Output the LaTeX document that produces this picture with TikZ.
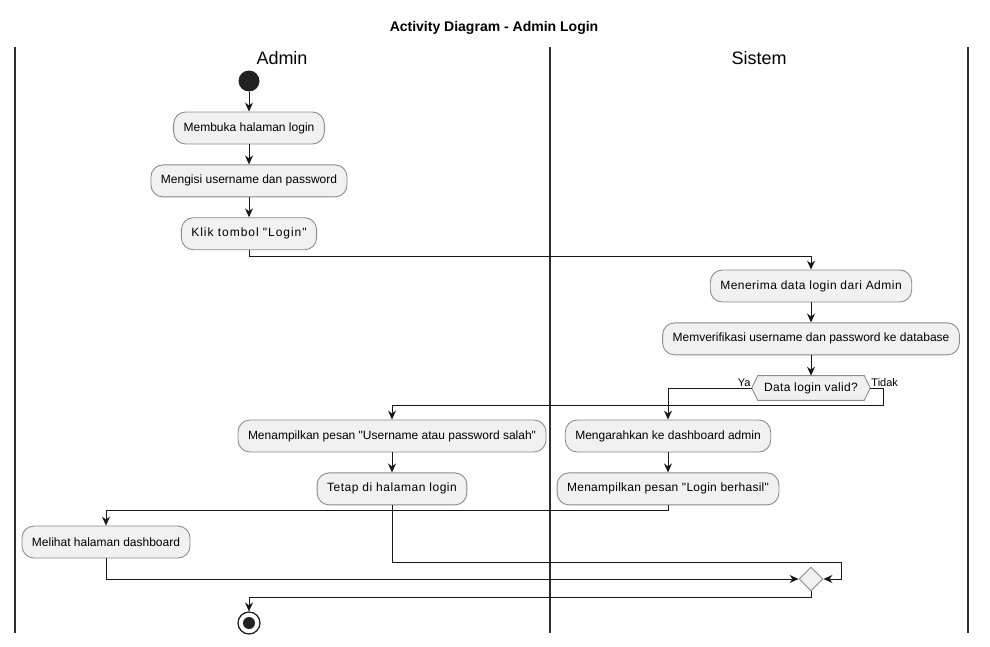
\documentclass[tikz,border=0pt]{standalone}
\usepackage{fontspec}
\setmainfont{Liberation Sans}[Ligatures=TeXOff]
\usetikzlibrary{arrows.meta,shapes.geometric,positioning,calc}

\definecolor{boxfill}{HTML}{F1F1F1}
\definecolor{boxline}{HTML}{8A8A8A}
\definecolor{flowline}{HTML}{181818}
\definecolor{laneline}{HTML}{2E2E2E}
\definecolor{dotfill}{HTML}{222222}

\pgfdeclarelayer{background}
\pgfsetlayers{background,main}

\tikzset{
	action/.style={draw=boxline, fill=boxfill, line width=0.5pt, rounded corners=0.24cm,
		minimum height=0.64cm, inner xsep=0.2cm, inner ysep=0pt,
		font=\fontsize{6.83pt}{8pt}\selectfont},
	spaced/.style={font=\fontsize{6.83pt}{8pt}\selectfont\addfontfeature{LetterSpace=#1}},
	flow/.style={draw=flowline, line width=0.57pt,
		-{Stealth[length=0.18cm,width=0.16cm,inset=0.06cm]}},
	guard/.style={inner sep=0.5pt, font=\fontsize{6.26pt}{7pt}\selectfont},
	lane/.style={draw=laneline, line width=0.85pt},
}

\begin{document}
\begin{tikzpicture}[x=0.02cm, y=-0.02cm]
	\useasboundingbox (0,0) rectangle (990,646);
	% swimlanes
	\foreach \x in {15,550,968}
		\draw[lane] (\x,47) -- (\x,633);
	\node[font=\fontsize{7.97pt}{9pt}\selectfont\bfseries] (title) at (494,28) {Activity Diagram - Admin Login};
	\node[font=\fontsize{10.24pt}{12pt}\selectfont] (hadmin) at (282,58) {Admin};
	\node[font=\fontsize{10.24pt}{12pt}\selectfont] (hsistem) at (759,58) {Sistem};
	%
	\node[circle, fill=dotfill, minimum size=0.42cm, inner sep=0pt] (start) at (249,81) {};
	\node[action] (a1) at (249,128) {Membuka halaman login};
	\node[action, below=0.4cm of a1] (a2) {Mengisi username dan password};
	\node[action, spaced=8, below=0.4cm of a2] (a3) {Klik tombol "Login"};
	\node[action, spaced=4] (s1) at (811,286) {Menerima data login dari Admin};
	\node[action, below=0.4cm of s1] (s2) {Memverifikasi username dan password ke database};
	\node[minimum height=0.48cm, inner xsep=0.12cm, inner ysep=0pt, spaced=3] (dec) at (811,388) {Data login valid?};
	\coordinate (decL) at ($(dec.west)+(-6,0)$);
	\coordinate (decR) at ($(dec.east)+(6,0)$);
	\begin{pgfonlayer}{background}
		\draw[boxline, fill=boxfill, line width=0.5pt] (decL) -- (dec.north west) -- (dec.north east)
			-- (decR) -- (dec.south east) -- (dec.south west) -- cycle;
	\end{pgfonlayer}
	\node[guard, anchor=south east] (ya) at (decL) {Ya};
	\node[guard, anchor=south west] (tidak) at (decR) {Tidak};
	\node[action] (s3) at (668,436) {Mengarahkan ke dashboard admin};
	\node[action, spaced=2.2, below=0.4cm of s3] (s4) {Menampilkan pesan "Login berhasil"};
	\node[action] (e1) at (392,436) {Menampilkan pesan "Username atau password salah"};
	\node[action, spaced=4.5, below=0.4cm of e1] (e2) {Tetap di halaman login};
	\node[action] (a4) at (106,542) {Melihat halaman dashboard};
	\node[diamond, draw=boxline, fill=boxfill, line width=0.5pt, minimum size=0.48cm,
		inner sep=0pt] (merge) at (811,579) {};
	\node[circle, draw=flowline, line width=0.7pt, fill=white, minimum size=0.44cm,
		inner sep=0pt] (stop) at (249,623) {};
	\fill[dotfill] (stop) circle (0.12cm);
	%
	\draw[flow] (start) -- (a1);
	\draw[flow] (a1) -- (a2);
	\draw[flow] (a2) -- (a3);
	\draw[flow] (a3.south) -- ++(0,6) -| (s1.north);
	\draw[flow] (s1) -- (s2);
	\draw[flow] (s2) -- (dec.north);
	\draw[flow] (decL) -| (s3.north);
	\draw[flow] (decR) -- ++(13,0) -- ++(0,17) -| (e1.north);
	\draw[flow] (s3) -- (s4);
	\draw[flow] (e1) -- (e2);
	\draw[flow] (s4.south) -- ++(0,5) -| (a4.north);
	\draw[flow] (e2.south) -- ++(0,57) -| ($(merge.east)+(18,0)$) -- (merge.east);
	\draw[flow] (a4.south) |- (merge.west);
	\draw[flow] (merge.south) -- ++(0,6) -| (stop.north);
\end{tikzpicture}
\end{document}
